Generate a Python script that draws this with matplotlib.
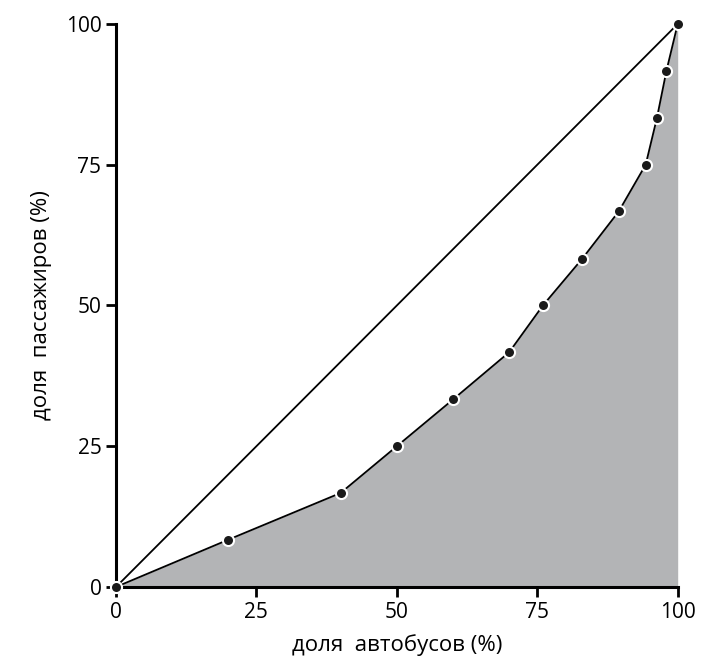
import matplotlib
matplotlib.use("Agg")
from matplotlib import pyplot as plt

bus_share = [0, 20, 40, 50, 60, 70, 76, 83, 89.5, 94.3, 96.3, 98.0, 100]
pass_share = [0, 8.4, 16.7, 25, 33.3, 41.7, 50, 58.3, 66.7, 75, 83.3, 91.7, 100]
ticks = [0, 25, 50, 75, 100]

plt.rcParams['font.family'] = ['Open Sans', 'DejaVu Sans']

fig = plt.figure(figsize=(7.03, 6.67), dpi=100)
ax = fig.add_axes([0.165, 0.12, 0.799, 0.844])

# equality line and the curve with shaded area below
ax.fill_between(bus_share, pass_share, 0, color='#b3b4b6', lw=0)
ax.plot([0, 100], [0, 100], color='black', lw=1.3)
ax.plot(bus_share, pass_share, color='black', lw=1.3, marker='o', markersize=8,
        markerfacecolor='#1a1a1a', markeredgecolor='white', markeredgewidth=1.5,
        clip_on=False, zorder=5)

ax.set_xlim(0, 100)
ax.set_ylim(0, 100)
ax.set_xticks(ticks)
ax.set_yticks(ticks)
ax.tick_params(labelsize=15, width=2, length=7, direction='out')
for side in ['top', 'right']:
    ax.spines[side].set_visible(False)
for side in ['left', 'bottom']:
    ax.spines[side].set_linewidth(2.2)

ax.set_xlabel("доля  автобусов (%)", fontsize=16, labelpad=8)
ax.set_ylabel("доля  пассажиров (%)", fontsize=16, labelpad=10)

fig.savefig("out.png", dpi=100)
